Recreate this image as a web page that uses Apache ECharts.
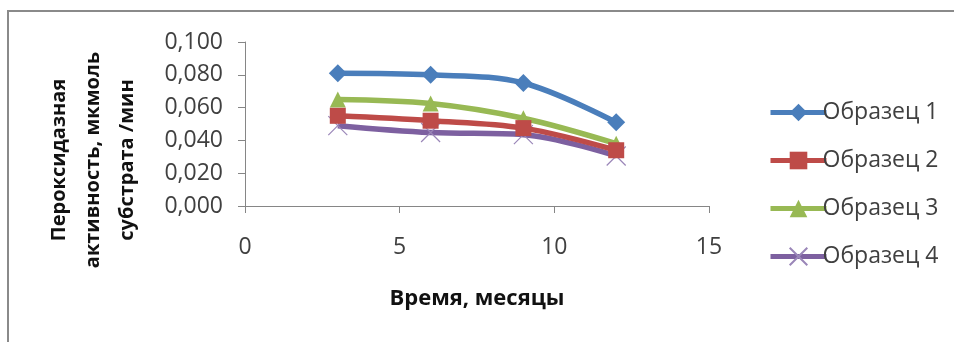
<!DOCTYPE html>
<html>
<head>
<meta charset="utf-8">
<script src="https://cdn.jsdelivr.net/npm/echarts@6/dist/echarts.min.js"></script>
<style>
html,body{margin:0;padding:0;background:#fff;}
#c{width:954px;height:342px;}
</style>
</head>
<body>
<div id="c"></div>
<script>
// Time, months
var months = [3, 6, 9, 12];
var seriesNames = ['Образец 1', 'Образец 2', 'Образец 3', 'Образец 4'];
var sample1 = [0.081, 0.080, 0.075, 0.051];
var sample2 = [0.055, 0.052, 0.0475, 0.034];
var sample3 = [0.065, 0.0625, 0.0535, 0.038];
var sample4 = [0.049, 0.0448, 0.0435, 0.0305];
var xTicks = [0, 5, 10, 15];
var yTicks = [0, 0.02, 0.04, 0.06, 0.08, 0.1];
var yAxisTitle = 'Пероксидазная\nактивность, мкмоль\nсубстрата /мин';
var xAxisTitle = 'Время, месяцы';

var colors = ['#4A7EBB', '#BE4B48', '#98B954', '#7D60A0'];
var symbols = ['diamond', 'rect', 'triangle', 'path://M0,0L10,10M10,0L0,10'];
var symbolSizes = [18, 16, 16, 19];
var allData = [sample1, sample2, sample3, sample4];

function pairs(vals) {
  return months.map(function (m, i) { return [m, vals[i]]; });
}

var series = allData.map(function (vals, k) {
  var isCross = k === 3;
  return {
    name: seriesNames[k],
    type: 'line',
    smooth: 0.35,
    data: pairs(vals),
    symbol: symbols[k],
    symbolSize: symbolSizes[k],
    showAllSymbol: true,
    lineStyle: { color: colors[k], width: 5.5 },
    itemStyle: isCross
      ? { color: colors[k], borderColor: '#9a86b8', borderWidth: 1.2 }
      : { color: colors[k], borderColor: colors[k], borderWidth: 0 },
    z: 10 - k
  };
});

var chart = echarts.init(document.getElementById('c'), null, { renderer: 'canvas' });
chart.setOption({
  animation: false,
  backgroundColor: '#ffffff',
  graphic: [{
    type: 'rect',
    shape: { x: 8, y: 11, width: 1000, height: 400 },
    style: { fill: 'none', stroke: '#8a8a8a', lineWidth: 2 },
    silent: true,
    z: -1
  }],
  grid: { left: 245, right: 245, top: 42, bottom: 136, containLabel: false, outerBoundsMode: 'none' },
  legend: {
    orient: 'vertical',
    left: 763,
    top: 96,
    itemWidth: 56,
    itemHeight: 22,
    itemGap: 25,
    data: seriesNames,
    lineStyle: { width: 5 },
    textStyle: { fontFamily: 'Open Sans', fontSize: 23, color: '#404040', padding: [0, 0, 0, -9] }
  },
  xAxis: {
    type: 'value',
    min: 0,
    max: 15,
    interval: 5,
    name: xAxisTitle,
    nameLocation: 'middle',
    nameGap: 82,
    nameTextStyle: { fontFamily: 'Open Sans', fontWeight: 'bold', fontSize: 22, color: '#111' },
    axisLine: { show: true, lineStyle: { color: '#868686', width: 1 } },
    axisTick: { show: true, length: 7, inside: false, lineStyle: { color: '#868686' } },
    splitLine: { show: false },
    axisLabel: {
      fontFamily: 'Open Sans', fontSize: 23, color: '#404040', margin: 30,
      formatter: function (v) { return xTicks.indexOf(v) >= 0 ? String(v) : ''; }
    }
  },
  yAxis: {
    type: 'value',
    min: 0,
    max: 0.1,
    interval: 0.02,
    name: yAxisTitle,
    nameLocation: 'middle',
    nameGap: 101,
    nameRotate: 90,
    nameTextStyle: { fontFamily: 'Open Sans', fontWeight: 'bold', fontSize: 20, color: '#111', lineHeight: 34, align: 'center', padding: [0, 72, 0, 0] },
    axisLine: { show: true, lineStyle: { color: '#868686', width: 1 } },
    axisTick: { show: true, length: 7, lineStyle: { color: '#868686' } },
    splitLine: { show: false },
    axisLabel: {
      fontFamily: 'Open Sans', fontSize: 23, color: '#404040', margin: 22,
      formatter: function (v) {
        var t = yTicks.filter(function (y) { return Math.abs(y - v) < 1e-9; });
        return t.length ? t[0].toFixed(3).replace('.', ',') : '';
      }
    }
  },
  series: series
});
</script>
</body>
</html>
